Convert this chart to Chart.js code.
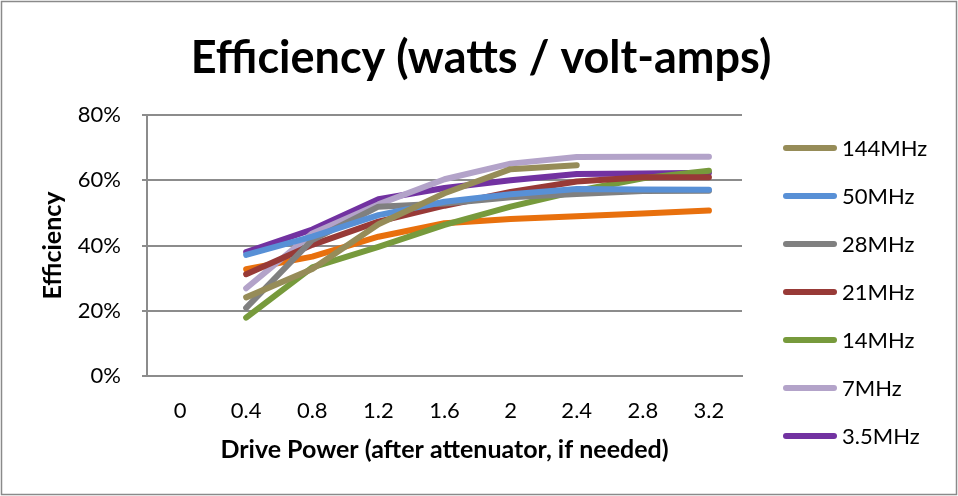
<!DOCTYPE html>
<html>
<head>
<meta charset="utf-8">
<script src="https://cdn.jsdelivr.net/npm/chart.js@4.4.1/dist/chart.umd.min.js"></script>
<style>
  html, body { margin: 0; padding: 0; background: #fff; }
  #wrap { width: 958px; height: 496px; position: relative; }
</style>
</head>
<body>
<div id="wrap"><canvas id="effChart"></canvas></div>
<script>
const drivePower = ['0', '0.4', '0.8', '1.2', '1.6', '2', '2.4', '2.8', '3.2'];
const yTicks = [0, 20, 40, 60, 80];

// efficiency in percent per band, no reading at 0
const eff144 = [null, 24.1, 32.8, 46.5, 56.0, 63.4, 64.6, null, null];
const eff50 = [null, 37.1, 42.7, 49.3, 53.4, 55.7, 57.3, 57.2, 57.1];
const eff28 = [null, 20.9, 41.7, 51.9, 52.9, 54.8, 55.8, 56.7, 56.8];
const eff21 = [null, 31.2, 40.2, 47.3, 52.2, 56.4, 59.6, 60.9, 60.9];
const eff14 = [null, 17.9, 33.3, 39.6, 46.3, 51.9, 56.7, 60.6, 62.9];
const eff7 = [null, 26.9, 43.7, 52.6, 60.3, 65.1, 67.1, 67.2, 67.2];
const eff35 = [null, 38.0, 44.9, 54.2, 57.6, 60.0, 61.9, 62.1, 62.3];
const effExtra = [null, 32.7, 36.6, 42.7, 46.8, 48.1, 49.0, 49.8, 50.7];

const chartTitle = 'Efficiency (watts / volt-amps)';
const FONT = 'Lato, "Open Sans", sans-serif';
const GRID = '#8c8c8c';

function series(label, data, color, inLegend) {
    return {
        label: label,
        data: data,
        borderColor: color,
        backgroundColor: color,
        borderWidth: 6,
        borderCapStyle: 'round',
        borderJoinStyle: 'round',
        pointRadius: 0,
        pointHoverRadius: 0,
        tension: 0,
        inLegend: inLegend
    };
}

// white background, thin frame round the whole chart, and the big title
const frame = {
    id: 'frame',
    beforeDraw(chart) {
        const ctx = chart.ctx;
        ctx.save();
        ctx.fillStyle = '#fff';
        ctx.fillRect(0, 0, chart.width, chart.height);
        ctx.strokeStyle = '#8a8a8a';
        ctx.lineWidth = 1.5;
        ctx.strokeRect(1.5, 1.5, chart.width - 3, chart.height - 3);
        ctx.fillStyle = '#000';
        ctx.font = 'bold 45px ' + FONT;
        ctx.textAlign = 'center';
        ctx.textBaseline = 'middle';
        ctx.fillText(chartTitle, 481, 58);
        ctx.restore();
    }
};

// legend column on the right, one line sample per band
const sideLegend = {
    id: 'sideLegend',
    afterDraw(chart) {
        const ctx = chart.ctx;
        const x0 = 786, x1 = 834, top = 148, step = 48;
        ctx.save();
        ctx.font = '22px ' + FONT;
        ctx.textBaseline = 'middle';
        ctx.lineCap = 'round';
        let row = 0;
        chart.data.datasets.forEach(ds => {
            if (!ds.inLegend) return;
            const y = top + row * step;
            ctx.strokeStyle = ds.borderColor;
            ctx.lineWidth = 6;
            ctx.beginPath();
            ctx.moveTo(x0, y);
            ctx.lineTo(x1, y);
            ctx.stroke();
            ctx.fillStyle = '#000';
            ctx.fillText(ds.label, 842, y + 1);
            row++;
        });
        ctx.restore();
    }
};

const effCtx = document.getElementById('effChart').getContext('2d');
const effChart = new Chart(effCtx, {
    type: 'line',
    data: {
        labels: drivePower,
        datasets: [
            series('144MHz', eff144, '#968c58', true),
            series('50MHz', eff50, '#5890d6', true),
            series('28MHz', eff28, '#808080', true),
            series('21MHz', eff21, '#983a37', true),
            series('14MHz', eff14, '#779a3c', true),
            series('7MHz', eff7, '#b3a3c9', true),
            series('3.5MHz', eff35, '#7232a1', true),
            series('', effExtra, '#e8700d', false)
        ]
    },
    options: {
        responsive: true,
        maintainAspectRatio: false,
        animation: false,
        events: [],
        layout: { padding: { left: 0, right: 216, top: 115, bottom: 0 } },
        plugins: {
            legend: { display: false },
            tooltip: { enabled: false },
            title: { display: false }
        },
        scales: {
            x: {
                type: 'category',
                offset: true,
                afterFit(scale) { scale.height = 120; },
                grid: { display: false, drawTicks: false },
                border: { display: true, color: GRID, width: 2 },
                ticks: { color: '#000', padding: 22, font: { family: FONT, size: 22 } },
                title: {
                    display: true,
                    text: 'Drive Power (after attenuator, if needed)',
                    color: '#000',
                    font: { family: FONT, size: 25, weight: 'bold' },
                    padding: { top: 0, bottom: 31 }
                }
            },
            y: {
                min: 0,
                max: 80,
                afterFit(scale) { scale.width = 147; },
                afterBuildTicks(scale) { scale.ticks = yTicks.map(v => ({ value: v })); },
                grid: { color: GRID, lineWidth: 2, drawTicks: true, tickLength: 5 },
                border: { display: true, color: GRID, width: 2 },
                ticks: {
                    color: '#000',
                    padding: 21,
                    font: { family: FONT, size: 22 },
                    callback: v => v + '%'
                },
                title: {
                    display: true,
                    text: 'Efficiency',
                    color: '#000',
                    font: { family: FONT, size: 25, weight: 'bold' },
                    padding: { top: 38, bottom: 0 }
                }
            }
        }
    },
    plugins: [frame, sideLegend]
});
</script>
</body>
</html>
